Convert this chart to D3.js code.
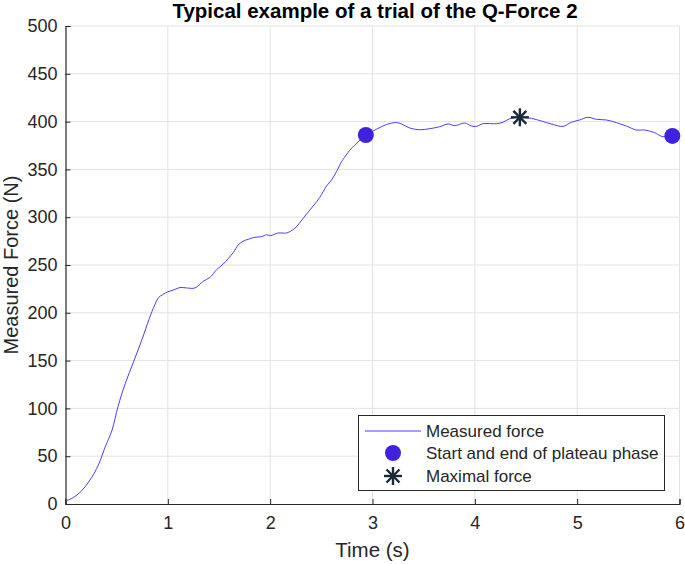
<!DOCTYPE html>
<html><head><meta charset="utf-8">
<script src="https://cdn.jsdelivr.net/npm/d3@7/dist/d3.min.js"></script>
<style>body{margin:0;background:#fff}svg{display:block}text{font-family:"Liberation Sans",Arial,sans-serif;fill:#262626}</style>
</head><body><svg id="c" width="685" height="564"></svg>
<script>
const timeS = [0,0.08,0.16,0.226,0.28,0.33,0.389,0.454,0.513,0.584,0.666,0.747,0.819,0.871,0.91,0.95,1.0,1.06,1.12,1.183,1.265,1.346,1.411,1.476,1.541,1.639,1.688,1.737,1.79,1.851,1.916,1.965,2.004,2.078,2.16,2.241,2.322,2.42,2.485,2.551,2.6,2.648,2.697,2.713,2.778,2.827,2.88,2.935,3.039,3.137,3.234,3.283,3.364,3.462,3.56,3.657,3.738,3.804,3.901,3.967,4.016,4.08,4.21,4.275,4.34,4.438,4.553,4.65,4.748,4.861,4.943,5.024,5.106,5.187,5.285,5.383,5.48,5.578,5.659,5.757,5.838,5.93];
const forceN = [3,7,14,23,32,43,60,77,102,126,149,172,194,208,216,219,222,224,226.5,226,226,233,237,245,251,263,271,275,277,279,279.6,281.7,280.7,283.5,283.5,288.4,298.8,311.7,320.8,332.6,339,347.6,358,360.5,370,375.5,381,386,392,397,399,397.5,393.3,391.5,392.6,394.7,397.5,395.7,398.5,395.4,395,397.8,397.8,399.3,403,404.5,403.4,400.6,397.5,395,399.3,401.7,404.5,402.4,401.7,398.9,395.4,391.2,391.2,388.4,384.2,386];
const plateauT = [2.935, 5.93];
const plateauF = [386, 385];
const maxT = [4.44];
const maxF = [404.5];
const xTicks = [0,1,2,3,4,5,6];
const yTicks = [0,50,100,150,200,250,300,350,400,450,500];
const legendLabels = ["Measured force","Start and end of plateau phase","Maximal force"];

const svg = d3.select("#c");
const L=65.5, R=679.5, T=26, B=504;
const x = d3.scaleLinear().domain([0,6]).range([L,R]);
const y = d3.scaleLinear().domain([0,500]).range([B,T]);
const axisCol="#262626";

svg.append("g").selectAll("line").data(xTicks.slice(1)).join("line")
 .attr("x1",d=>x(d)).attr("x2",d=>x(d)).attr("y1",T).attr("y2",B)
 .attr("stroke","#e3e3e3").attr("stroke-width",1);
svg.append("g").selectAll("line").data(yTicks.slice(1)).join("line")
 .attr("x1",L).attr("x2",R).attr("y1",d=>y(d)).attr("y2",d=>y(d))
 .attr("stroke","#e3e3e3").attr("stroke-width",1);

const xa = svg.append("g").attr("transform",`translate(0,${B})`)
 .call(d3.axisBottom(x).tickValues(xTicks).tickSize(-5).tickPadding(12).tickFormat(d3.format("d")));
const ya = svg.append("g").attr("transform",`translate(${L},0)`)
 .call(d3.axisLeft(y).tickValues(yTicks).tickSize(-5).tickPadding(8).tickFormat(d3.format("d")));
[xa,ya].forEach(a=>{
 a.select(".domain").attr("stroke",axisCol).attr("stroke-width",1.2);
 a.selectAll(".tick line").attr("stroke",axisCol);
 a.selectAll(".tick text").attr("fill",axisCol).style("font-size","18px").style("font-family",'"Liberation Sans",Arial,sans-serif');
});

const line = d3.line().x((d,i)=>x(timeS[i])).y((d,i)=>y(forceN[i])).curve(d3.curveCatmullRom.alpha(0.5));
svg.append("path").datum(forceN).attr("d",line).attr("fill","none").attr("stroke","#4a3ff0").attr("stroke-width",1);

const dotCol="#4221de";
svg.append("g").selectAll("circle").data(plateauT).join("circle")
 .attr("cx",d=>x(d)).attr("cy",(d,i)=>y(plateauF[i])).attr("r",8).attr("fill",dotCol);

const starCol="#1b2a3a";
function star(g,cx,cy,r){
 const a = [[0,-r,0,r],[-r,0,r,0],[-r*0.72,-r*0.72,r*0.72,r*0.72],[-r*0.72,r*0.72,r*0.72,-r*0.72]];
 g.selectAll(null).data(a).join("line").attr("x1",d=>cx+d[0]).attr("y1",d=>cy+d[1]).attr("x2",d=>cx+d[2]).attr("y2",d=>cy+d[3])
  .attr("stroke",starCol).attr("stroke-width",2.4);
}
maxT.forEach((t,i)=>star(svg.append("g"),x(t),y(maxF[i]),9));

svg.append("text").attr("x",375).attr("y",18).attr("text-anchor","middle")
 .style("font-size","20.5px").style("font-weight","bold").style("fill","#000").text("Typical example of a trial of the Q-Force 2");
svg.append("text").attr("x",(L+R)/2).attr("y",557).attr("text-anchor","middle").style("font-size","20.5px").text("Time (s)");
svg.append("text").attr("transform",`translate(18,${(T+B)/2}) rotate(-90)`).attr("text-anchor","middle").style("font-size","20px").text("Measured Force (N)");

const lg = svg.append("g");
lg.append("rect").attr("x",358.5).attr("y",415.5).attr("width",306).attr("height",75).attr("fill","#fff").attr("stroke",axisCol).attr("stroke-width",1);
const rows=[431,453,476];
lg.append("line").attr("x1",365).attr("x2",421).attr("y1",rows[0]).attr("y2",rows[0]).attr("stroke","#4a3ff0").attr("stroke-width",1);
lg.append("circle").attr("cx",393).attr("cy",rows[1]).attr("r",8).attr("fill",dotCol);
star(lg.append("g"),393,rows[2],9);
lg.selectAll("text").data(legendLabels).join("text").attr("x",426).attr("y",(d,i)=>rows[i]).attr("dy","0.36em")
 .style("font-size","17px").text(d=>d);
</script></body></html>
